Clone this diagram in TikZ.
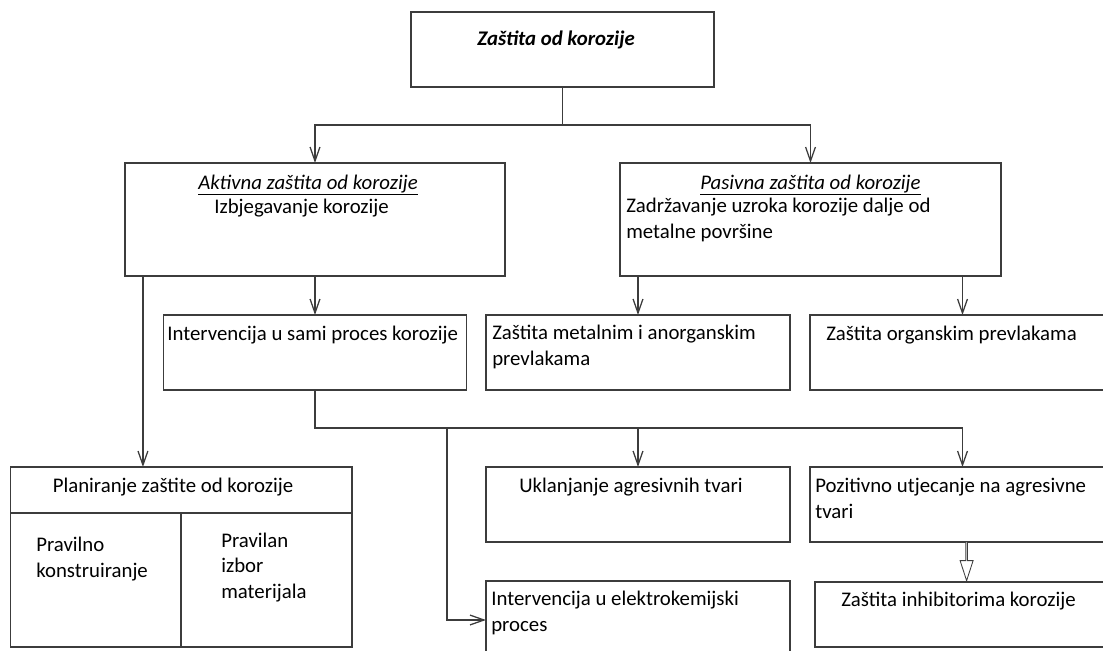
\documentclass[tikz,border=0pt]{standalone}
\usepackage{fontspec}
\setmainfont{Carlito}
\usepackage{tikz}
\usetikzlibrary{arrows.meta,shapes.arrows}
\tikzset{every node/.append style={align=left}}
\definecolor{linecolor}{RGB}{60, 60, 60}
\newcommand{\diagfont}{\fontsize{14.8pt}{17.8pt}\selectfont}

\begin{document}
\begin{tikzpicture}[x=0.025cm, y=-0.025cm,
    box/.style={draw=linecolor, line width=0.9pt, inner sep=0pt, outer sep=0pt},
    txt/.style={anchor=base west, inner sep=0pt, font=\diagfont},
    arr/.style={draw=linecolor, line width=0.9pt, -{Straight Barb[length=10pt, width=7pt]}}]
    \useasboundingbox (0,0) rectangle (1103,650);
    \clip (0,0) rectangle (1103,650);

    % Top
    \node[box, minimum width=7.575cm, minimum height=1.875cm] (top) at (562.5,49.5) {};
    \node[txt, font=\diagfont\bfseries\itshape] (topT) at (477,46) {Zaštita od korozije};

    % Active / passive
    \node[box, minimum width=9.5cm, minimum height=2.825cm] (akt) at (315,219.5) {};
    \node[txt, font=\diagfont\itshape] (aktT) at (198,189) {\underline{Aktivna zaštita od korozije}};
    \node[txt] (aktS) at (214,213) {Izbjegavanje korozije};

    \node[box, minimum width=9.525cm, minimum height=2.825cm] (pas) at (810.5,219.5) {};
    \node[txt, font=\diagfont\itshape] (pasT) at (700,189) {\underline{Pasivna zaštita od korozije}};
    \node[txt] (pasS) at (626,238) {Zadržavanje uzroka korozije dalje od\\metalne površine};

    % Second row
    \node[box, minimum width=7.575cm, minimum height=1.875cm] (intv) at (315,352.5) {};
    \node[txt] (intvT) at (167,340) {Intervencija u sami proces korozije};

    \node[box, minimum width=7.6cm, minimum height=1.875cm] (met) at (638,352.5) {};
    \node[txt] (metT) at (492,365) {Zaštita metalnim i anorganskim\\prevlakama};

    \node[box, minimum width=7.625cm, minimum height=1.875cm] (org) at (962.5,352.5) {};
    \node[txt] (orgT) at (826,340) {Zaštita organskim prevlakama};

    % Planning
    \node[box, minimum width=8.5375cm, minimum height=1.15cm] (planT) at (181.25,490) {};
    \node[txt] (planTT) at (52.5,492) {Planiranje zaštite od korozije};
    \node[box, minimum width=4.2625cm, minimum height=3.35cm] (planL) at (95.75,580) {};
    \node[txt] (planLT) at (36,577) {Pravilno\\konstruiranje};
    \node[box, minimum width=4.275cm, minimum height=3.35cm] (planR) at (266.5,580) {};
    \node[txt] (planRT) at (221,598) {Pravilan\\izbor\\materijala};

    % Third row
    \node[box, minimum width=7.6cm, minimum height=1.875cm] (ukl) at (638,504.5) {};
    \node[txt] (uklT) at (519,492) {Uklanjanje agresivnih tvari};

    \node[box, minimum width=7.625cm, minimum height=1.875cm] (poz) at (962.5,504.5) {};
    \node[txt] (pozT) at (815,518) {Pozitivno utjecanje na agresivne\\tvari};

    \node[box, minimum width=7.6cm, minimum height=1.95cm] (elek) at (638,620) {};
    \node[txt] (elekT) at (491,631) {Intervencija u elektrokemijski\\proces};

    \node[box, minimum width=7.5cm, minimum height=1.625cm] (inh) at (965,614.5) {};
    \node[txt] (inhT) at (841,606) {Zaštita inhibitorima korozije};

    % Hollow arrow
    \node[single arrow, draw=linecolor, fill=white, line width=0.6pt, shape border rotate=270,
        minimum height=0.975cm, minimum width=0.325cm, single arrow head extend=0.075cm,
        single arrow tip angle=36, inner sep=0pt, anchor=tip] (inhArr) at ([xshift=0.04cm]inh.north) {};

    % Connectors
    \draw[arr] (top.south) -- ++(0,38) -| (akt.north);
    \draw[arr] (top.south) -- ++(0,38) -| (pas.north);

    \coordinate (aktFoot) at ([xshift=0.45cm]akt.south west);
    \draw[arr] (aktFoot) -- (aktFoot |- planT.north);
    \draw[arr] (akt.south) -- (intv.north);

    \draw[arr] (pas.south -| met.north) -- (met.north);
    \draw[arr] (pas.south -| org.north) -- (org.north);

    \draw[arr] (intv.south) -- ++(0,38) -| (ukl.north);
    \draw[arr] (intv.south) -- ++(0,38) -| (poz.north);
    \coordinate (elekTap) at (447,428);
    \draw[arr] (elekTap) |- (elek.west);
\end{tikzpicture}
\end{document}
